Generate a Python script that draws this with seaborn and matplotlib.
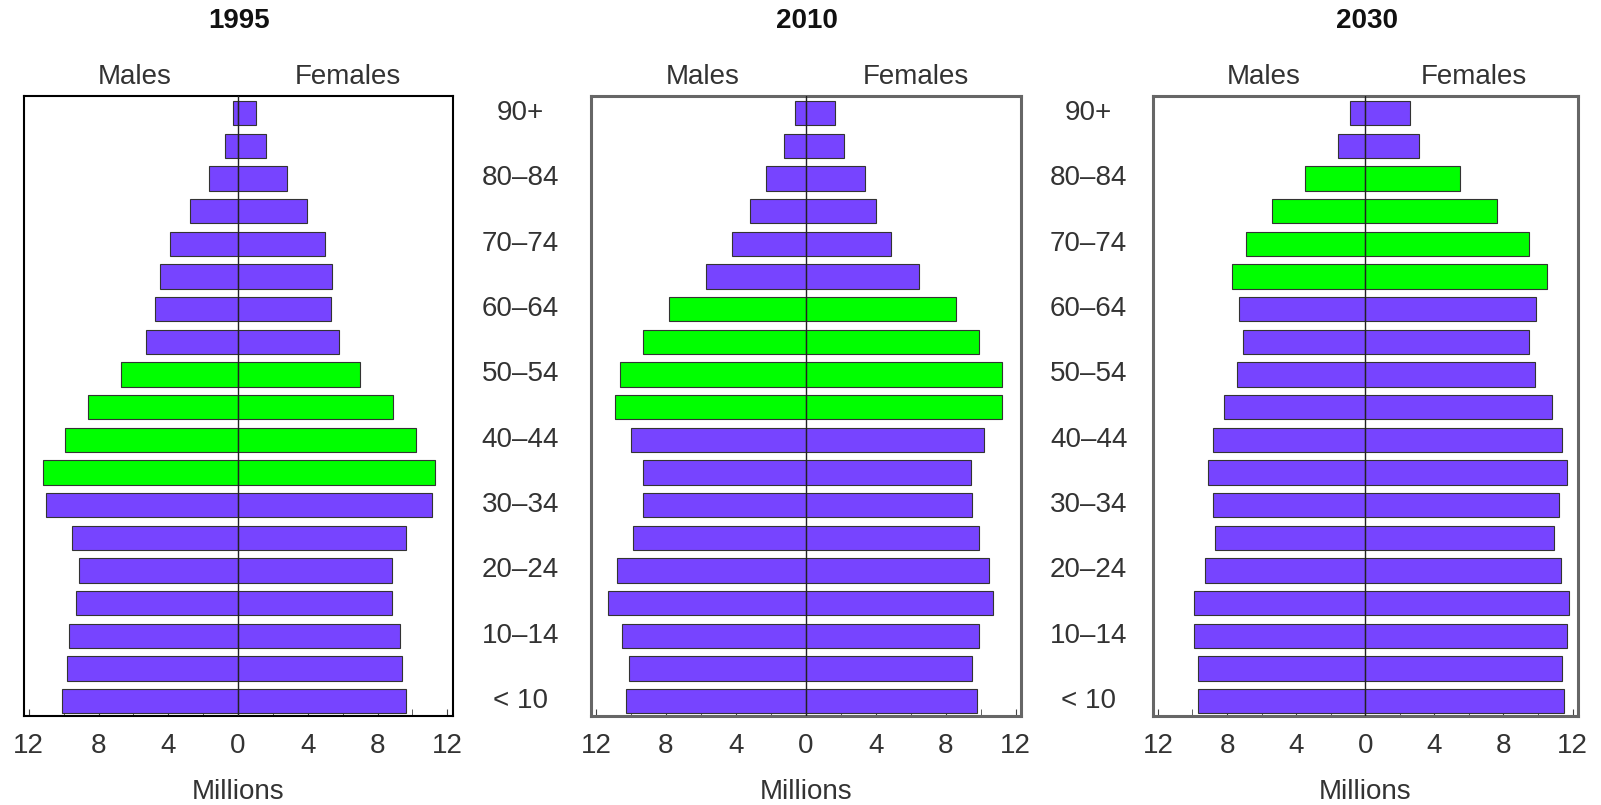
import numpy as np
import pandas as pd
import matplotlib
matplotlib.use("Agg")
import matplotlib.pyplot as plt
import matplotlib.transforms as mtransforms
import seaborn as sns

sns.set_style("white")
plt.rcParams['font.family'] = ['Liberation Sans', 'DejaVu Sans']

# age groups, top to bottom
ages = ['90+', '85–89', '80–84', '75–79', '70–74', '65–69', '60–64', '55–59',
        '50–54', '45–49', '40–44', '35–39', '30–34', '25–29', '20–24',
        '15–19', '10–14', '5–9', '0–4']
# labels shown for every second group
shown_labels = ['90+', '80–84', '70–74', '60–64', '50–54', '40–44',
                '30–34', '20–24', '10–14', '< 10']

years = ['1995', '2010', '2030']

# millions
males_1995 = [0.3, 0.75, 1.65, 2.75, 3.9, 4.5, 4.75, 5.3, 6.7, 8.6, 9.9, 11.2,
              11.0, 9.5, 9.1, 9.3, 9.7, 9.8, 10.1]
females_1995 = [1.0, 1.6, 2.8, 3.95, 5.0, 5.4, 5.3, 5.8, 7.0, 8.9, 10.2, 11.3,
                11.1, 9.6, 8.8, 8.8, 9.3, 9.4, 9.6]
males_2010 = [0.6, 1.25, 2.3, 3.2, 4.2, 5.7, 7.8, 9.3, 10.6, 10.9, 10.0, 9.3,
              9.3, 9.9, 10.8, 11.3, 10.5, 10.1, 10.3]
females_2010 = [1.65, 2.2, 3.4, 4.0, 4.9, 6.5, 8.6, 9.9, 11.2, 11.2, 10.2, 9.45,
                9.5, 9.9, 10.5, 10.7, 9.9, 9.5, 9.8]
males_2030 = [0.9, 1.6, 3.5, 5.4, 6.9, 7.7, 7.3, 7.1, 7.4, 8.2, 8.8, 9.1,
              8.8, 8.7, 9.3, 9.9, 9.9, 9.7, 9.7]
females_2030 = [2.6, 3.1, 5.5, 7.6, 9.5, 10.5, 9.9, 9.5, 9.8, 10.8, 11.4, 11.7,
                11.2, 10.9, 11.3, 11.8, 11.7, 11.4, 11.5]

# baby-boom cohort highlighted in green
highlight_1995 = ['50–54', '45–49', '40–44', '35–39']
highlight_2010 = ['60–64', '55–59', '50–54', '45–49']
highlight_2030 = ['80–84', '75–79', '70–74', '65–69']

males = [males_1995, males_2010, males_2030]
females = [females_1995, females_2010, females_2030]
highlights = [highlight_1995, highlight_2010, highlight_2030]

pal = {'boom': '#00ff00', 'other': '#7744ff'}

fig = plt.figure(figsize=(16.01, 8.05), dpi=100)
positions = [[0.0147, 0.110, 0.268, 0.771],
             [0.369, 0.110, 0.2686, 0.771],
             [0.720, 0.110, 0.2655, 0.771]]
frame_styles = [('black', 1.5), ('#666666', 2.2), ('#666666', 2.2)]

for k, year in enumerate(years):
    ax = fig.add_axes(positions[k])
    df = pd.DataFrame({
        'age': ages,
        'males': -np.array(males[k]),
        'females': np.array(females[k]),
        'grp': ['boom' if a in highlights[k] else 'other' for a in ages],
    })
    for col in ['males', 'females']:
        sns.barplot(data=df, x=col, y='age', hue='grp', palette=pal,
                    order=ages, dodge=False, width=0.75, orient='h',
                    edgecolor='#333333', linewidth=0.8, legend=False,
                    saturation=1, ax=ax)
    ax.axvline(0, color='#222222', lw=1, zorder=5)

    ax.set_xlim(-12.3, 12.3)
    ax.set_ylim(18.47, -0.53)
    ax.set_xticks(range(-12, 13, 4))
    ax.set_xticklabels([str(abs(v)) for v in range(-12, 13, 4)],
                       fontsize=20, color='#333333')
    ax.set_xticks(range(-10, 11, 2), minor=True)
    ax.tick_params(axis='x', which='both', direction='in', length=5,
                   bottom=True, pad=12, color='#444444')
    ax.set_yticks([])
    ax.set_ylabel('')
    ax.set_xlabel('Millions', fontsize=20, color='#333333', labelpad=14)

    col, lw = frame_styles[k]
    for sp in ax.spines.values():
        sp.set_visible(True)
        sp.set_color(col)
        sp.set_linewidth(lw)

    ax.text(0.503, 1.12, year, transform=ax.transAxes, ha='center',
            va='center', fontsize=20, fontweight='bold', color='#111111')
    ax.text(0.26, 1.031, 'Males', transform=ax.transAxes, ha='center',
            va='center', fontsize=20, color='#333333')
    ax.text(0.755, 1.031, 'Females', transform=ax.transAxes, ha='center',
            va='center', fontsize=20, color='#333333')

    if k < 2:
        trans = mtransforms.blended_transform_factory(ax.transAxes, ax.transData)
        for i, lab in zip(range(0, len(ages), 2), shown_labels):
            ax.text(1.158, i, lab, transform=trans, ha='center', va='center',
                    fontsize=20, color='#333333')

fig.savefig('out.png', dpi=100)
